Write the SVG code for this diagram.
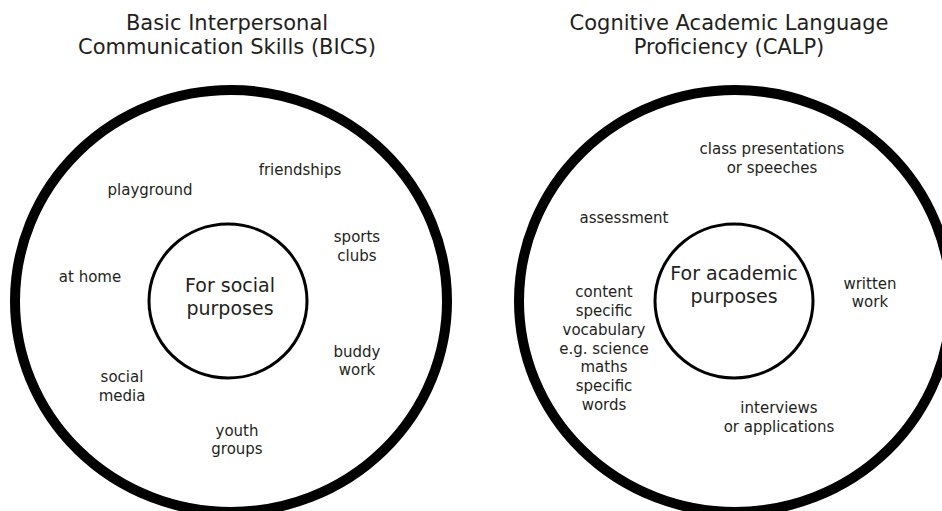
<svg xmlns="http://www.w3.org/2000/svg" width="942" height="511" viewBox="0 0 942 511">
<style>
.outer{fill:none;stroke:#000;stroke-width:10}
.inner{fill:none;stroke:#000;stroke-width:3}
text{font-family:"DejaVu Sans","Liberation Sans",sans-serif;fill:#231f20;text-anchor:middle}
.title{font-size:21px}
.core{font-size:19px}
.lbl{font-size:15px}
</style>
<rect width="942" height="511" fill="#fff"/>
<g id="bics">
<text class="title" x="227" y="30">Basic Interpersonal</text>
<text class="title" x="227" y="54">Communication Skills (BICS)</text>
<ellipse class="outer" cx="231" cy="301" rx="216" ry="211"/>
</g>
<g id="bics-core">
<ellipse class="inner" cx="228" cy="301" rx="79" ry="77"/>
<text class="core" x="230" y="292">For social</text>
<text class="core" x="230" y="315">purposes</text>
</g>
<g id="bics-labels" class="lbl">
<text class="lbl" x="300" y="175">friendships</text>
<text class="lbl" x="150" y="195">playground</text>
<text class="lbl" x="357" y="242">sports</text>
<text class="lbl" x="357" y="261">clubs</text>
<text class="lbl" x="90" y="282">at home</text>
<text class="lbl" x="357" y="357">buddy</text>
<text class="lbl" x="357" y="375">work</text>
<text class="lbl" x="122" y="382">social</text>
<text class="lbl" x="122" y="401">media</text>
<text class="lbl" x="237" y="436">youth</text>
<text class="lbl" x="237" y="454">groups</text>
</g>
<g id="calp">
<text class="title" x="729" y="30">Cognitive Academic Language</text>
<text class="title" x="729" y="54">Proficiency (CALP)</text>
<ellipse class="outer" cx="735" cy="301" rx="216" ry="211"/>
</g>
<g id="calp-core">
<ellipse class="inner" cx="734" cy="301" rx="79" ry="77"/>
<text class="core" x="734" y="280">For academic</text>
<text class="core" x="734" y="303">purposes</text>
</g>
<g id="calp-labels">
<text class="lbl" x="772" y="154">class presentations</text>
<text class="lbl" x="772" y="173">or speeches</text>
<text class="lbl" x="624" y="223">assessment</text>
<text class="lbl" x="870" y="289">written</text>
<text class="lbl" x="870" y="307">work</text>
<text class="lbl" x="604" y="297">content</text>
<text class="lbl" x="604" y="316">specific</text>
<text class="lbl" x="604" y="335">vocabulary</text>
<text class="lbl" x="604" y="354">e.g. science</text>
<text class="lbl" x="604" y="372">maths</text>
<text class="lbl" x="604" y="391">specific</text>
<text class="lbl" x="604" y="410">words</text>
<text class="lbl" x="779" y="413">interviews</text>
<text class="lbl" x="779" y="432">or applications</text>
</g>
<g id="connectors"/>
</svg>
